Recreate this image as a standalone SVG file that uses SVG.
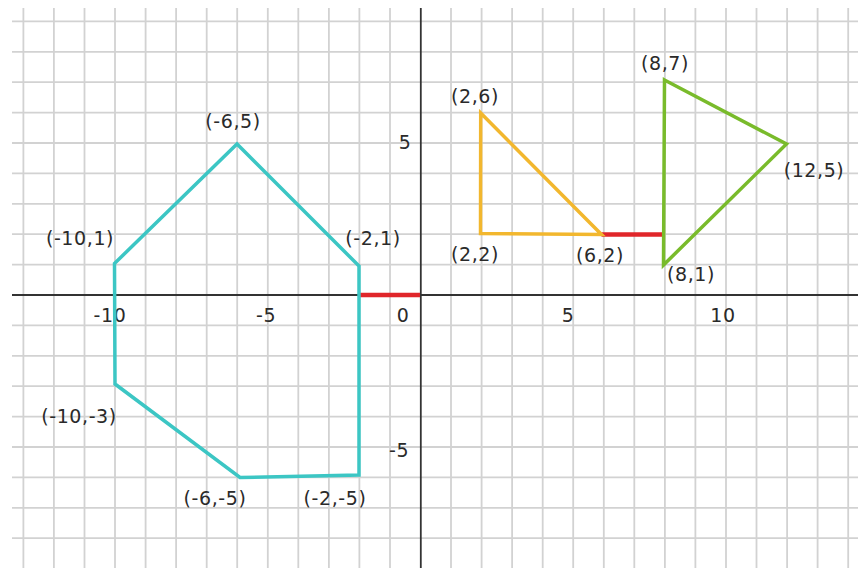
<svg xmlns="http://www.w3.org/2000/svg" width="858" height="568" viewBox="0 0 858 568">
<style>
.grid line{stroke:#d2d2d2;stroke-width:1.8}
.axis{stroke:#333;stroke-width:1.8}
.shape{fill:none;stroke-width:3.5;stroke-linejoin:miter}
.lbl{font-family:"DejaVu Sans",Verdana,sans-serif;font-size:19px;letter-spacing:0.6px;fill:#2a2a2a;text-anchor:middle}
</style>
<rect width="858" height="568" fill="#fff"/>
<g id="grid" class="grid">
<line x1="23.4" y1="8" x2="23.4" y2="568"/>
<line x1="53.9" y1="8" x2="53.9" y2="568"/>
<line x1="84.5" y1="8" x2="84.5" y2="568"/>
<line x1="115" y1="8" x2="115" y2="568"/>
<line x1="145.6" y1="8" x2="145.6" y2="568"/>
<line x1="176.1" y1="8" x2="176.1" y2="568"/>
<line x1="206.7" y1="8" x2="206.7" y2="568"/>
<line x1="237.2" y1="8" x2="237.2" y2="568"/>
<line x1="267.8" y1="8" x2="267.8" y2="568"/>
<line x1="298.3" y1="8" x2="298.3" y2="568"/>
<line x1="328.9" y1="8" x2="328.9" y2="568"/>
<line x1="359.4" y1="8" x2="359.4" y2="568"/>
<line x1="390" y1="8" x2="390" y2="568"/>
<line x1="451" y1="8" x2="451" y2="568"/>
<line x1="481.6" y1="8" x2="481.6" y2="568"/>
<line x1="512.1" y1="8" x2="512.1" y2="568"/>
<line x1="542.7" y1="8" x2="542.7" y2="568"/>
<line x1="573.2" y1="8" x2="573.2" y2="568"/>
<line x1="603.8" y1="8" x2="603.8" y2="568"/>
<line x1="634.3" y1="8" x2="634.3" y2="568"/>
<line x1="664.9" y1="8" x2="664.9" y2="568"/>
<line x1="695.4" y1="8" x2="695.4" y2="568"/>
<line x1="726" y1="8" x2="726" y2="568"/>
<line x1="756.5" y1="8" x2="756.5" y2="568"/>
<line x1="787.1" y1="8" x2="787.1" y2="568"/>
<line x1="817.6" y1="8" x2="817.6" y2="568"/>
<line x1="848.2" y1="8" x2="848.2" y2="568"/>
<line x1="12" y1="21.4" x2="858" y2="21.4"/>
<line x1="12" y1="51.8" x2="858" y2="51.8"/>
<line x1="12" y1="82.2" x2="858" y2="82.2"/>
<line x1="12" y1="112.6" x2="858" y2="112.6"/>
<line x1="12" y1="143" x2="858" y2="143"/>
<line x1="12" y1="173.4" x2="858" y2="173.4"/>
<line x1="12" y1="203.8" x2="858" y2="203.8"/>
<line x1="12" y1="234.2" x2="858" y2="234.2"/>
<line x1="12" y1="264.6" x2="858" y2="264.6"/>
<line x1="12" y1="325.4" x2="858" y2="325.4"/>
<line x1="12" y1="355.8" x2="858" y2="355.8"/>
<line x1="12" y1="386.2" x2="858" y2="386.2"/>
<line x1="12" y1="416.6" x2="858" y2="416.6"/>
<line x1="12" y1="447" x2="858" y2="447"/>
<line x1="12" y1="477.4" x2="858" y2="477.4"/>
<line x1="12" y1="507.8" x2="858" y2="507.8"/>
<line x1="12" y1="538.2" x2="858" y2="538.2"/>
</g>
<g id="axes">
<line class="axis" x1="12" y1="295" x2="858" y2="295"/>
<line class="axis" x1="420.8" y1="8" x2="420.8" y2="568" stroke="#555" stroke-width="2.2"/>
</g>
<g id="axis-labels" class="lbl">
<text x="110" y="322">-10</text>
<text x="266" y="322">-5</text>
<text x="403" y="322">0</text>
<text x="568" y="322">5</text>
<text x="723" y="322">10</text>
<text x="405" y="149">5</text>
<text x="399" y="457">-5</text>
</g>
<g id="connectors">
<line x1="359" y1="295" x2="420" y2="295" stroke="#e0262a" stroke-width="4.5"/>
<line x1="601.5" y1="234.5" x2="662.5" y2="234.5" stroke="#e0262a" stroke-width="4.5"/>
</g>
<g id="polygon-cyan">
<polygon class="shape" stroke="#3cc6c4" points="114.5,263.5 237,144 359,266 359,475 240,477.5 115,384"/>
<text class="lbl" x="233" y="128">(-6,5)</text>
<text class="lbl" x="80" y="245">(-10,1)</text>
<text class="lbl" x="373" y="245">(-2,1)</text>
<text class="lbl" x="79" y="423">(-10,-3)</text>
<text class="lbl" x="215" y="505">(-6,-5)</text>
<text class="lbl" x="335" y="505">(-2,-5)</text>
</g>
<g id="triangle-yellow">
<polygon class="shape" stroke="#f2b72e" points="480.7,113 480.5,233.5 601.5,234.5"/>
<text class="lbl" x="475" y="103">(2,6)</text>
<text class="lbl" x="475" y="261">(2,2)</text>
<text class="lbl" x="600" y="262">(6,2)</text>
</g>
<g id="triangle-green">
<polygon class="shape" stroke="#79bb2b" points="664.5,80 786.5,144 663.5,265"/>
<text class="lbl" x="665" y="70">(8,7)</text>
<text class="lbl" x="814" y="177">(12,5)</text>
<text class="lbl" x="691" y="281">(8,1)</text>
</g>
</svg>
